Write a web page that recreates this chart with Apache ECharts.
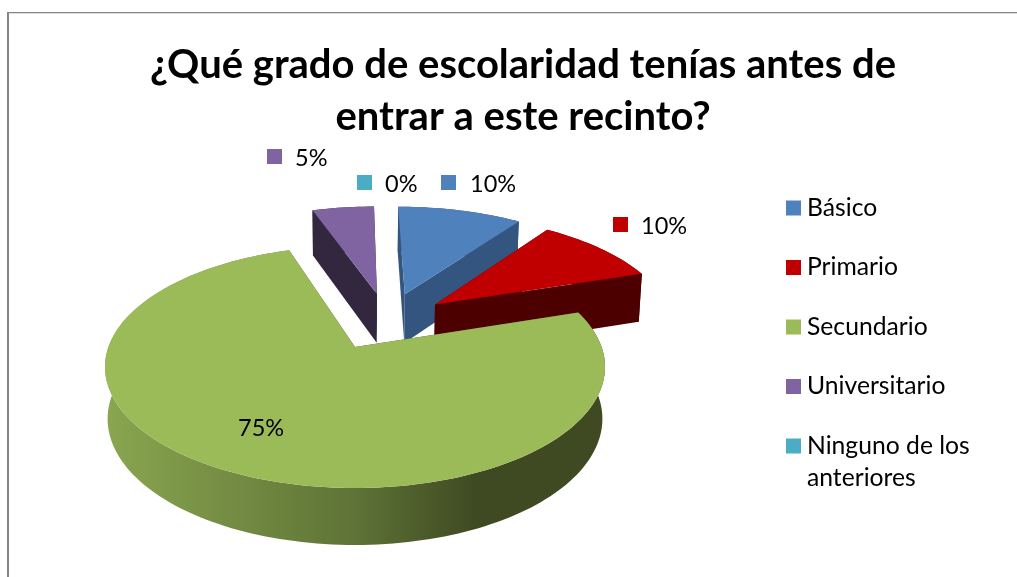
<!DOCTYPE html>
<html>
<head>
<meta charset="utf-8">
<style>html,body{margin:0;padding:0;background:#fff}#c{width:1017px;height:577px}</style>
<script src="https://cdn.jsdelivr.net/npm/echarts@6/dist/echarts.min.js"></script>
</head>
<body>
<div id="c"></div>
<script>
const titleText = '¿Qué grado de escolaridad tenías antes de\nentrar a este recinto?';
const categories = ['Básico', 'Primario', 'Secundario', 'Universitario', 'Ninguno de los anteriores'];
const percentages = [10, 10, 75, 5, 0];

// Appearance and layout, kept apart from the values
const topColors  = ['#4F81BD', '#C00000', '#9BBB59', '#8064A2', '#4BACC6'];
const wallColors = ['#34557F', '#4D0000', '#3F4A22', '#33263F', '#2F6F80'];
const layers = [1, 2, 3, 1, 4];
const sliceShift = [[0.218, 0.484], [0.345, 0.384], [0, 0], [0.096, 0.486], [0.15, 0.45]];
const labelSpots = [[441, 175, 470, 184], [613, 217, 641, 226], [221, 421, 238, 428], [267, 149, 295, 158], [357, 175, 385, 184]];

const FONT = 'Lato, "Open Sans", sans-serif';
const LABEL_SIZE = 23.5;
const LEGEND_SIZE = 24.7;
const persp = 0.165;
const cx = 355;
const topPlane = { X: 246.6, Y: 117.7, yc: 347 };
const lowPlane = { X: 244, Y: 122.7, yc: 398 };
const total = percentages.reduce((a, b) => a + b, 0);

function project(u, v, plane) {
  const w = 1 + persp * v;
  return [cx + plane.X * u / w, plane.yc - plane.Y * v / w];
}
function rimPoints(shift, a0, a1, plane) {
  const pts = [];
  const steps = Math.max(1, Math.ceil((a1 - a0) / (Math.PI / 120)));
  for (let i = 0; i <= steps; i++) {
    const a = a0 + (a1 - a0) * i / steps;
    pts.push(project(shift[0] + Math.sin(a), shift[1] + Math.cos(a), plane));
  }
  return pts;
}
function polygon(points, fill) {
  return { type: 'polygon', shape: { points: points }, style: { fill: fill, stroke: null } };
}
function renderSlice(index, api) {
  const value = api.value(0);
  let before = 0;
  for (let i = 0; i < index; i++) before += percentages[i];
  const a0 = before / total * Math.PI * 2;
  const a1 = (before + value) / total * Math.PI * 2;
  const shift = sliceShift[index];
  const children = [];
  if (value > 0) {
    const top = rimPoints(shift, a0, a1, topPlane);
    const low = rimPoints(shift, a0, a1, lowPlane);
    const apexTop = project(shift[0], shift[1], topPlane);
    const apexLow = project(shift[0], shift[1], lowPlane);
    let rimFill = wallColors[index];
    if (index === 2) {
      rimFill = new echarts.graphic.LinearGradient(105, 0, 605, 0, [
        { offset: 0, color: '#8AA650' },
        { offset: 0.5, color: '#5E7336' },
        { offset: 0.74, color: '#3F4A22' },
        { offset: 1, color: '#3F4A22' }
      ], true);
    }
    children.push(polygon([apexTop, top[0], low[0], apexLow], wallColors[index]));
    children.push(polygon([apexTop, top[top.length - 1], low[low.length - 1], apexLow], wallColors[index]));
    children.push(polygon(top.concat(low.slice().reverse()), rimFill));
    children.push(polygon([apexTop].concat(top), topColors[index]));
  }
  const spot = labelSpots[index];
  children.push({ type: 'rect', shape: { x: spot[0], y: spot[1], width: 15, height: 15 }, style: { fill: topColors[index] } });
  children.push({ type: 'text', style: { text: value + '%', x: spot[2], y: spot[3], fill: '#000', font: LABEL_SIZE + 'px ' + FONT, verticalAlign: 'middle', align: 'left' } });
  return { type: 'group', children: children };
}

const legendFormatter = name => name === categories[4] ? '\nNinguno de los\nanteriores' : name;
const legendBase = {
  orient: 'vertical', left: 786, padding: 0, itemWidth: 15, itemHeight: 15, icon: 'rect',
  itemGap: 27.5, formatter: legendFormatter, selectedMode: false,
  textStyle: { fontFamily: FONT, fontSize: LEGEND_SIZE, color: '#000', padding: [0, 0, 0, 1], lineHeight: 32 }
};

const chart = echarts.init(document.getElementById('c'), null, { renderer: 'canvas' });
chart.setOption({
  animation: false,
  backgroundColor: '#fff',
  title: {
    text: titleText, left: 518, top: 34, textAlign: 'center',
    textStyle: { fontFamily: FONT, fontSize: 40, fontWeight: 'bold', color: '#000', lineHeight: 52 }
  },
  legend: [
    Object.assign({}, legendBase, { top: 192, data: categories.slice(0, 4) }),
    Object.assign({}, legendBase, { top: 398, data: categories.slice(4) })
  ],
  graphic: [
    { type: 'line', silent: true, shape: { x1: 8, y1: 12, x2: 8, y2: 577 }, style: { stroke: '#868686', lineWidth: 2 } },
    { type: 'line', silent: true, shape: { x1: 7, y1: 12.5, x2: 1017, y2: 12.5 }, style: { stroke: '#868686', lineWidth: 1 } },
    { type: 'line', silent: true, shape: { x1: 9, y1: 13.5, x2: 1017, y2: 13.5 }, style: { stroke: '#DDDDDD', lineWidth: 1 } }
  ],
  series: categories.map((name, i) => ({
    type: 'custom', name: name, coordinateSystem: 'none', z: layers[i],
    itemStyle: { color: topColors[i] },
    renderItem: (params, api) => renderSlice(i, api),
    data: [[percentages[i]]]
  }))
});
</script>
</body>
</html>
